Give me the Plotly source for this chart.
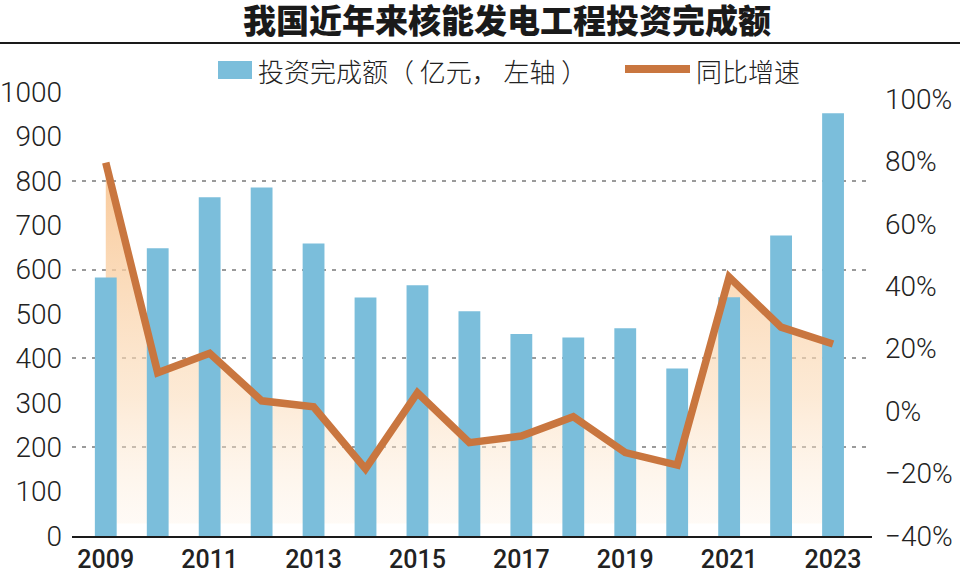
import plotly.graph_objects as go

years = list(range(2009, 2024))
invest = [582, 648, 763, 785, 659, 537, 565, 506, 455, 447, 468, 377, 538, 677, 952]
growth = [79.6, 12.3, 18.5, 3.3, 1.4, -18.5, 5.9, -10.1, -8.0, -1.8, -13.3, -17.3, 42.9, 26.9, 21.5]
fill_base = -36
left_ticks = list(range(0, 1001, 100))
grid_ticks = list(range(200, 1001, 200))
right_ticks = list(range(-40, 101, 20))
x_ticks = list(range(2009, 2024, 2))

title_text = "我国近年来核能发电工程投资完成额"
legend_bar = "投资完成额（ 亿元， 左轴 ）"
legend_line = "同比增速"

BAR = "#7bbedb"
LINE = "#c9763f"
TXT = "#222222"

fig = go.Figure()

# baseline for gradient fill
fig.add_trace(go.Scatter(x=[years[0], years[-1]], y=[fill_base, fill_base], mode="lines",
                         line=dict(width=0), yaxis="y", showlegend=False, hoverinfo="skip"))
fig.add_trace(go.Scatter(x=years, y=growth, mode="lines", line=dict(width=0),
                         fill="tonexty",
                         fillgradient=dict(type="vertical", start=fill_base, stop=80,
                                           colorscale=[[0, "rgba(253,236,218,0.25)"],
                                                       [0.35, "rgba(251,220,186,0.6)"],
                                                       [1, "rgba(248,194,140,0.9)"]]),
                         yaxis="y", showlegend=False, hoverinfo="skip"))
fig.add_trace(go.Bar(x=years, y=invest, width=0.42, marker=dict(color=BAR, line=dict(width=0)),
                     yaxis="y2", name=legend_bar, showlegend=False))
fig.add_trace(go.Scatter(x=years, y=growth, mode="lines",
                         line=dict(color=LINE, width=7.5),
                         yaxis="y3", name=legend_line, showlegend=False))
# invisible trace to activate grid axis
fig.add_trace(go.Scatter(x=[years[0]], y=[0], mode="markers", marker=dict(opacity=0),
                         yaxis="y4", showlegend=False, hoverinfo="skip"))

pr = [-40, 102.2]
tickfont_num = dict(family="Roboto", size=28, color=TXT, weight=300)

fig.update_layout(
    width=960, height=573,
    margin=dict(l=72, r=88, t=92, b=37),
    plot_bgcolor="white", paper_bgcolor="white",
    showlegend=False,
    title=dict(text=title_text, x=522/960, xanchor="center", xref="paper",
               y=1 - 21/573, yanchor="middle", yref="container",
               font=dict(family="Noto Sans CJK SC", size=33, color="#1a1a1a", weight=900)),
    xaxis=dict(range=[2008.35, 2023.75], tickvals=x_ticks, ticktext=[str(v) for v in x_ticks],
               showline=True, linecolor="#1a1a1a", linewidth=2, ticks="", showgrid=False,
               zeroline=False, automargin=False,
               tickfont=dict(family="Roboto", size=25, color=TXT, weight=500)),
    yaxis=dict(range=pr, side="right", tickvals=right_ticks,
               ticktext=[("−" if v < 0 else "") + f"{abs(v)}%" for v in right_ticks],
               showgrid=False, zeroline=False, showline=False, ticks="", automargin=False,
               ticklabelstandoff=12, tickfont=tickfont_num),
    yaxis2=dict(range=[0, 1000], overlaying="y", side="left", tickvals=left_ticks,
                showgrid=False, zeroline=False, showline=False, ticks="", automargin=False,
                ticklabelstandoff=9, tickfont=tickfont_num),
    yaxis3=dict(range=pr, overlaying="y", side="right", visible=False),
    yaxis4=dict(range=[0, 1000], overlaying="y", side="left", tickvals=grid_ticks,
                showticklabels=False, showgrid=True, gridcolor="#9a9a9a", gridwidth=1.5,
                griddash="4px,6px", zeroline=False, showline=False, ticks="", automargin=False),
)

# separator line under title
fig.add_shape(type="line", xref="paper", yref="paper", x0=-72/800, x1=888/800,
              y0=(536-43)/444, y1=(536-43)/444, line=dict(color="#1a1a1a", width=2))
# legend symbols
fig.add_shape(type="rect", xref="paper", yref="paper", x0=(218-72)/800, x1=(252-72)/800,
              y0=(536-79)/444, y1=(536-61)/444, fillcolor=BAR, line=dict(width=0))
fig.add_shape(type="line", xref="paper", yref="paper", x0=(625-72)/800, x1=(690-72)/800,
              y0=(536-69)/444, y1=(536-69)/444, line=dict(color=LINE, width=8))
legfont = dict(family="Noto Sans CJK SC", size=26, color=TXT, weight=300)
fig.add_annotation(text=legend_bar, xref="paper", yref="paper", x=(256-72)/800, y=(536-70)/444,
                   xanchor="left", yanchor="middle", showarrow=False, font=legfont)
fig.add_annotation(text=legend_line, xref="paper", yref="paper", x=(694-72)/800, y=(536-70)/444,
                   xanchor="left", yanchor="middle", showarrow=False, font=legfont)

fig.write_html("out.html")
